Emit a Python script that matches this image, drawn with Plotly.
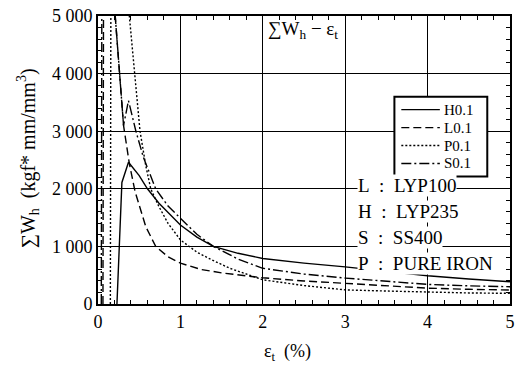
import plotly.graph_objects as go

# ---- data ----
H_x = [0.23, 0.29, 0.37, 0.5, 0.6, 0.74, 1.0, 1.2, 1.4, 1.7, 2.0, 2.5, 3.0, 3.5, 4.0, 4.5, 5.0]
H_y = [0, 2110, 2460, 2230, 2000, 1750, 1370, 1160, 1000, 880, 790, 710, 645, 570, 490, 435, 386]

L_x = [0.06, 0.07, 0.31, 0.38, 0.45, 0.58, 0.7, 0.85, 1.0, 1.25, 1.5, 2.0, 2.5, 3.0, 3.5, 4.0, 4.5, 5.0]
L_y = [0, 7600, 3100, 2440, 1950, 1343, 1000, 820, 709, 600, 540, 455, 400, 358, 310, 275, 255, 242]

P_x = [0.15, 0.16, 0.51, 0.58, 0.64, 0.74, 0.85, 1.0, 1.2, 1.38, 1.6, 2.0, 2.5, 3.0, 3.5, 4.0, 4.5, 5.0]
P_y = [0, 8400, 3000, 2400, 2000, 1690, 1400, 1113, 900, 767, 620, 420, 320, 245, 225, 205, 192, 185]

S_x = [0.04, 0.05, 0.31, 0.37, 0.46, 0.55, 0.7, 0.85, 1.0, 1.2, 1.4, 1.7, 2.0, 2.5, 3.0, 3.5, 4.0, 4.5, 5.0]
S_y = [0, 8000, 3100, 3530, 3000, 2550, 2000, 1700, 1490, 1210, 1000, 780, 620, 520, 450, 390, 340, 315, 300]

series_names = ["H0.1", "L0.1", "P0.1", "S0.1"]
x_ticks = [0, 1, 2, 3, 4, 5]
y_ticks = [0, 1000, 2000, 3000, 4000, 5000]
y_tick_text = ["0", "1 000", "2 000", "3 000", "4 000", "5 000"]
NB = "\u00a0"
material_labels = [f"L{NB}{NB}:{NB}{NB}LYP100", f"H{NB}{NB}:{NB}{NB}LYP235",
                   f"S{NB}{NB}:{NB}{NB}SS400", f"P{NB}{NB}:{NB}{NB}PURE IRON"]

FONT = "Liberation Serif"
W, H = 521, 378
ML, MR, MT, MB = 98, 6, 15, 74

fig = go.Figure()
dashes = ["solid", "8px,4px", "2px,2px", "10px,3px,2px,3px"]
for name, xs, ys, d in zip(series_names, [H_x, L_x, P_x, S_x], [H_y, L_y, P_y, S_y], dashes):
    fig.add_trace(go.Scatter(x=xs, y=ys, mode="lines", name=name, showlegend=False,
                             line=dict(color="black", width=1.4, dash=d)))

axis_common = dict(showline=True, mirror="allticks", linecolor="black", linewidth=2,
                   showgrid=True, gridcolor="black", gridwidth=1,
                   ticks="inside", ticklen=6, tickcolor="black", tickwidth=1.2,
                   zeroline=False, tickfont=dict(family=FONT, size=18, color="black"))

fig.update_xaxes(range=[0, 5], tickvals=x_ticks, ticktext=[str(v) for v in x_ticks],
                 minor=dict(dtick=0.2, ticks="inside", ticklen=4, tickcolor="black", showgrid=False),
                 **axis_common)
fig.update_yaxes(range=[0, 5000], tickvals=y_ticks, ticktext=y_tick_text,
                 minor=dict(dtick=200, ticks="inside", ticklen=4, tickcolor="black", showgrid=False),
                 **axis_common)

pw = W - ML - MR
ph = H - MT - MB
def px2paper_x(px):
    return (px - ML) / pw
def px2paper_y(py):
    return (H - MB - py) / ph

annotations = []
shapes = []
# y axis title
annotations.append(dict(text="\u2211W<sub>h</sub>  (kgf* mm/mm<sup>3</sup>)", textangle=-90,
                        xref="paper", yref="paper", x=px2paper_x(27), y=px2paper_y(158),
                        xanchor="center", yanchor="middle",
                        showarrow=False, font=dict(family=FONT, size=20, color="black")))
# x axis title
annotations.append(dict(text="\u03b5<sub>t</sub>  (%)", xref="paper", yref="paper",
                        x=px2paper_x(290), y=px2paper_y(353), xanchor="center", yanchor="middle",
                        showarrow=False, font=dict(family=FONT, size=18, color="black")))
# inner title
annotations.append(dict(text="\u2211W<sub>h</sub> \u2212 \u03b5<sub>t</sub>", xref="paper", yref="paper",
                        x=px2paper_x(268), y=px2paper_y(29), xanchor="left", yanchor="middle",
                        showarrow=False, font=dict(family=FONT, size=19, color="black")))
# material labels
label_y = [185, 211, 237, 263]
for t, yy in zip(material_labels, label_y):
    annotations.append(dict(text=t, xref="paper", yref="paper", x=px2paper_x(360), y=px2paper_y(yy),
                            xanchor="left", yanchor="middle", showarrow=False,
                            bgcolor="white", borderpad=0,
                            font=dict(family=FONT, size=19, color="black")))

# legend box (drawn as shapes + text)
LB = dict(x0=398, x1=492, y0=96, y1=176)
shapes.append(dict(type="rect", xref="paper", yref="paper",
                   x0=px2paper_x(LB["x0"]), x1=px2paper_x(LB["x1"]),
                   y0=px2paper_y(LB["y1"]), y1=px2paper_y(LB["y0"]),
                   line=dict(color="black", width=2), fillcolor="white", layer="above"))
leg_y = [109, 127, 145, 163]
for name, d, yy in zip(series_names, dashes, leg_y):
    shapes.append(dict(type="line", xref="paper", yref="paper",
                       x0=px2paper_x(405), x1=px2paper_x(444),
                       y0=px2paper_y(yy), y1=px2paper_y(yy),
                       line=dict(color="black", width=1.4, dash=d), layer="above"))
    annotations.append(dict(text=name, xref="paper", yref="paper", x=px2paper_x(446), y=px2paper_y(yy),
                            xanchor="left", yanchor="middle", showarrow=False,
                            font=dict(family=FONT, size=15, color="black")))

fig.update_layout(
    width=W, height=H,
    margin=dict(l=ML, r=MR, t=MT, b=MB),
    paper_bgcolor="white", plot_bgcolor="white",
    annotations=annotations, shapes=shapes,
    showlegend=False,
)

fig.write_html("out.html")
